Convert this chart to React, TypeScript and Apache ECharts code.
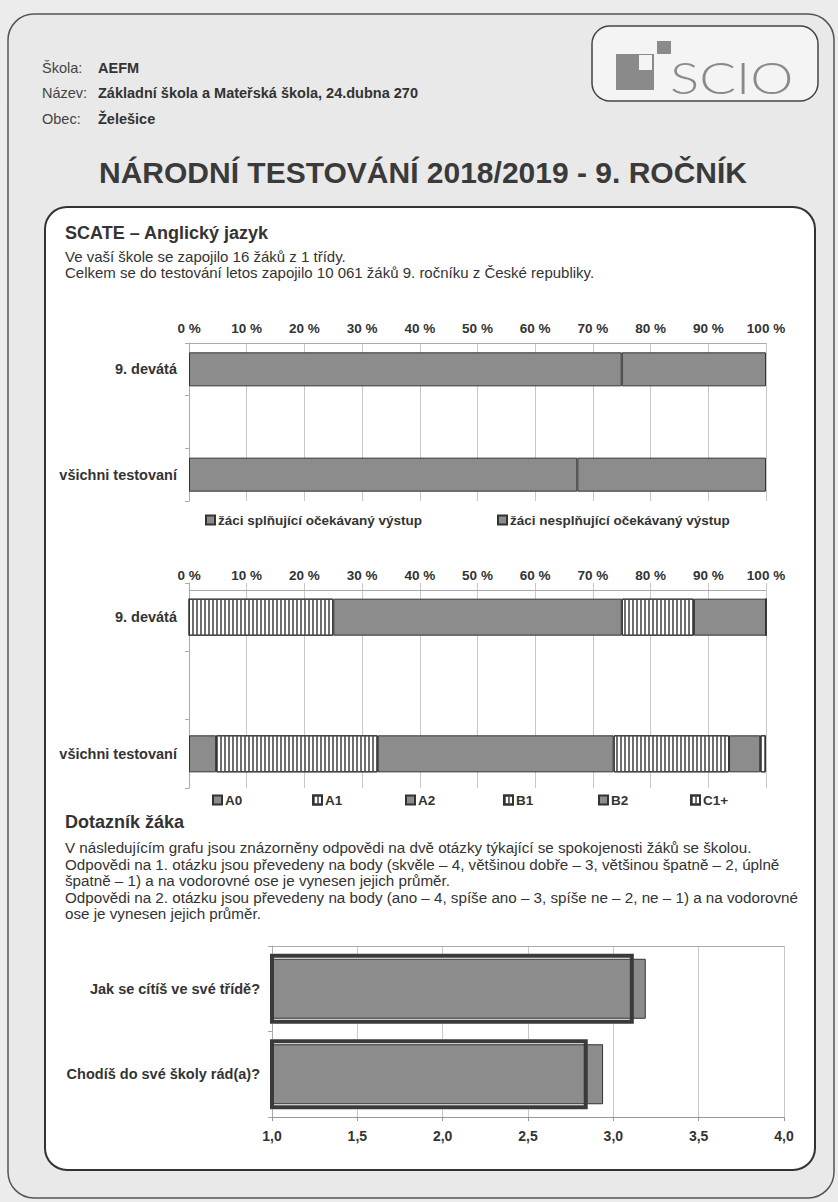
import React, { useEffect, useRef } from "react";
import * as echarts from "echarts";

const F = '"Liberation Sans", Arial, sans-serif';

// Chart 1: expected output
const CAT_LEVEL = ["9. devátá", "", "všichni testovaní"];
const SERIES_MEET = "žáci splňující očekávaný výstup";
const SERIES_NOT = "žáci nesplňující očekávaný výstup";
const MEET = [75, null, 67.3];
const NOT_MEET = [25, null, 32.7];

// Chart 2: CEFR levels
const LEVELS = ["A0", "A1", "A2", "B1", "B2", "C1+"];
const A0 = [0, null, 4.7];
const A1 = [25, null, 28.0];
const A2 = [50, null, 40.9];
const B1 = [12.5, null, 20.0];
const B2 = [12.5, null, 5.4];
const C1 = [0, null, 1.0];
const LEVEL_DATA = [A0, A1, A2, B1, B2, C1];
const STRIPED = [false, true, false, true, false, true];

// Chart 3: questionnaire
const QUESTIONS = ["Jak se cítíš ve své třídě?", "Chodíš do své školy rád(a)?"];
const SCHOOL = [3.12, 2.85];
const ALL = [3.19, 2.94];

const GRAY = "#8c8c8c";
const DARK = "#333333";

const stripeDecal = {
  symbol: "rect",
  symbolSize: 1,
  dashArrayX: [2, 2],
  dashArrayY: [1, 0],
  color: "#6e6e6e",
};

function txt(text: string, x: number, y: number, size: number, weight: string = "normal", extra: any = {}, el: any = {}) {
  return {
    type: "text",
    x,
    y,
    z: 100,
    ...el,
    style: {
      text,
      fontSize: size,
      fontWeight: weight,
      fontFamily: F,
      fill: "#333",
      textVerticalAlign: "middle",
      ...extra,
    },
  };
}

export default function App() {
  const ref = useRef<HTMLDivElement>(null);
  useEffect(() => {
    if (!ref.current) return;
    const chart = echarts.init(ref.current, undefined, { renderer: "svg" });

    const pctAxis = (gridIndex: number, offset: number) => ({
      type: "value",
      gridIndex,
      position: "top",
      offset,
      min: 0,
      max: 100,
      interval: 10,
      axisLine: { show: true, lineStyle: { color: "#aaa" } },
      axisTick: { show: false },
      axisLabel: {
        formatter: "{value} %",
        fontFamily: F,
        fontWeight: "bold",
        fontSize: 13.5,
        color: "#333",
        margin: 8,
      },
      splitLine: { show: true, lineStyle: { color: "#c8c8c8", width: 1 } },
    });
    const catAxis = (gridIndex: number, data: string[], show = true) => ({
      type: "category",
      gridIndex,
      data,
      inverse: true,
      show,
      axisLine: { show: true, lineStyle: { color: "#aaa" } },
      axisTick: { show: true, length: 4, lineStyle: { color: "#aaa" } },
      axisLabel: {
        fontFamily: F,
        fontWeight: "bold",
        fontSize: 14.5,
        color: "#333",
        margin: 12,
      },
    });

    const series: any[] = [];
    series.push({
      name: SERIES_MEET,
      type: "bar",
      stack: "c1",
      xAxisIndex: 0,
      yAxisIndex: 0,
      barWidth: 34,
      data: MEET,
      itemStyle: { color: GRAY, borderColor: DARK, borderWidth: 1 },
    });
    series.push({
      name: SERIES_NOT,
      type: "bar",
      stack: "c1",
      xAxisIndex: 0,
      yAxisIndex: 0,
      barWidth: 34,
      data: NOT_MEET,
      itemStyle: { color: GRAY, borderColor: DARK, borderWidth: 1 },
    });
    LEVELS.forEach((name, i) => {
      series.push({
        name,
        type: "bar",
        stack: "c2",
        xAxisIndex: 1,
        yAxisIndex: 1,
        barWidth: 37,
        data: LEVEL_DATA[i],
        itemStyle: STRIPED[i]
          ? { color: "#ffffff", borderColor: DARK, borderWidth: 1, decal: stripeDecal }
          : { color: GRAY, borderColor: DARK, borderWidth: 1 },
      });
    });
    series.push({
      name: "škola podklad",
      type: "bar",
      xAxisIndex: 2,
      yAxisIndex: 2,
      barWidth: 70,
      data: SCHOOL,
      z: 1,
      itemStyle: { color: "#ffffff" },
    });
    series.push({
      name: "všichni",
      type: "bar",
      xAxisIndex: 2,
      yAxisIndex: 3,
      barWidth: 60,
      data: ALL,
      z: 2,
      itemStyle: { color: GRAY, borderColor: DARK, borderWidth: 1 },
    });
    series.push({
      name: "škola",
      type: "bar",
      xAxisIndex: 2,
      yAxisIndex: 4,
      barWidth: 70,
      data: SCHOOL,
      z: 3,
      itemStyle: { color: "rgba(0,0,0,0)", borderColor: "#3a3a3a", borderWidth: 4 },
    });

    const legendBase = {
      icon: "rect",
      itemWidth: 9,
      itemHeight: 9,
      itemGap: 5,
      selectedMode: false,
      textStyle: { fontFamily: F, fontWeight: "bold", fontSize: 13.5, color: "#333", padding: [0, 0, 0, -2] },
    };
    const legends: any[] = [
      { ...legendBase, data: [SERIES_MEET], left: 200, top: 508 },
      { ...legendBase, data: [SERIES_NOT], left: 492, top: 508 },
    ];
    const levelLegendX = [207, 307, 400, 498, 593, 685];
    LEVELS.forEach((name, i) => {
      legends.push({ ...legendBase, data: [name], left: levelLegendX[i], top: 788 });
    });

    const graphic: any[] = [
      {
        type: "rect",
        z: -100,
        shape: { x: 8, y: 14, width: 826, height: 1184, r: 26 },
        style: { fill: "#e9e9e9", stroke: "#555", lineWidth: 1.5 },
      },
      {
        type: "rect",
        z: -90,
        shape: { x: 45, y: 207, width: 770, height: 963, r: 22 },
        style: { fill: "#ffffff", stroke: "#333", lineWidth: 2 },
      },
      {
        type: "rect",
        z: -90,
        shape: { x: 592, y: 26, width: 226, height: 75, r: 18 },
        style: { fill: "#f4f4f4", stroke: "#444", lineWidth: 1.5 },
      },
      { type: "rect", z: 50, shape: { x: 616, y: 54, width: 38, height: 36 }, style: { fill: "#8a8a8a" } },
      { type: "rect", z: 51, shape: { x: 639, y: 55, width: 13, height: 15 }, style: { fill: "#f4f4f4" } },
      { type: "rect", z: 50, shape: { x: 657, y: 41, width: 14, height: 13 }, style: { fill: "#8a8a8a" } },
      txt("SCIO", 670, 77, 44, "300", { fontFamily: "Lato, 'Open Sans', sans-serif", fill: "#8a8a8a" }, { scaleX: 1.24 }),
      txt("Škola:", 42, 68, 14.5, "normal", { fill: "#444" }),
      txt("AEFM", 98, 68, 14.5, "bold"),
      txt("Název:", 42, 93, 14.5, "normal", { fill: "#444" }),
      txt("Základní škola a Mateřská škola, 24.dubna 270", 98, 93, 14.5, "bold"),
      txt("Obec:", 42, 119, 14.5, "normal", { fill: "#444" }),
      txt("Želešice", 98, 119, 14.5, "bold"),
      txt("NÁRODNÍ TESTOVÁNÍ 2018/2019 - 9. ROČNÍK", 423, 172, 30, "bold", { textAlign: "center", fill: "#3a3a3a" }),
      txt("SCATE – Anglický jazyk", 65, 233, 18, "bold"),
      txt("Ve vaší škole se zapojilo 16 žáků z 1 třídy.", 65, 256, 15),
      txt("Celkem se do testování letos zapojilo 10 061 žáků 9. ročníku z České republiky.", 65, 272, 15),
      txt("Dotazník žáka", 65, 822, 18, "bold"),
      txt("V následujícím grafu jsou znázorněny odpovědi na dvě otázky týkající se spokojenosti žáků se školou.", 65, 847, 15.2),
      txt("Odpovědi na 1. otázku jsou převedeny na body (skvěle – 4, většinou dobře – 3, většinou špatně – 2, úplně", 65, 864, 15.2),
      txt("špatně – 1) a na vodorovné ose je vynesen jejich průměr.", 65, 880, 15.2),
      txt("Odpovědi na 2. otázku jsou převedeny na body (ano – 4, spíše ano – 3, spíše ne – 2, ne – 1) a na vodorovné", 65, 897, 15.2),
      txt("ose je vynesen jejich průměr.", 65, 913, 15.2),
    ];

    chart.setOption({
      animation: false,
      backgroundColor: "#ececec",
      graphic,
      legend: legends,
      grid: [
        { left: 189, top: 343, width: 577, height: 158 },
        { left: 189, top: 583, width: 577, height: 205 },
        { left: 272, top: 946, width: 512, height: 171 },
      ],
      xAxis: [
        pctAxis(0, 0),
        pctAxis(1, -7),
        {
          type: "value",
          gridIndex: 2,
          position: "bottom",
          min: 1,
          max: 4,
          interval: 0.5,
          axisLine: { show: true, lineStyle: { color: "#999" } },
          axisTick: { show: true, length: 4, lineStyle: { color: "#999" } },
          axisLabel: {
            formatter: (v: number) => v.toFixed(1).replace(".", ","),
            fontFamily: F,
            fontWeight: "bold",
            fontSize: 14,
            color: "#333",
            margin: 12,
          },
          splitLine: { show: true, lineStyle: { color: "#c8c8c8" } },
        },
        {
          type: "value",
          gridIndex: 2,
          position: "top",
          min: 1,
          max: 4,
          interval: 0.5,
          axisLine: { show: true, lineStyle: { color: "#aaa" } },
          axisTick: { show: false },
          axisLabel: { show: false },
          splitLine: { show: false },
        },
      ],
      yAxis: [
        catAxis(0, CAT_LEVEL),
        catAxis(1, CAT_LEVEL),
        catAxis(2, QUESTIONS),
        catAxis(2, QUESTIONS, false),
        catAxis(2, QUESTIONS, false),
      ],
      series,
    });
    return () => chart.dispose();
  }, []);
  return <div ref={ref} style={{ position: "absolute", left: 0, top: 0, width: 838, height: 1202 }} />;
}
